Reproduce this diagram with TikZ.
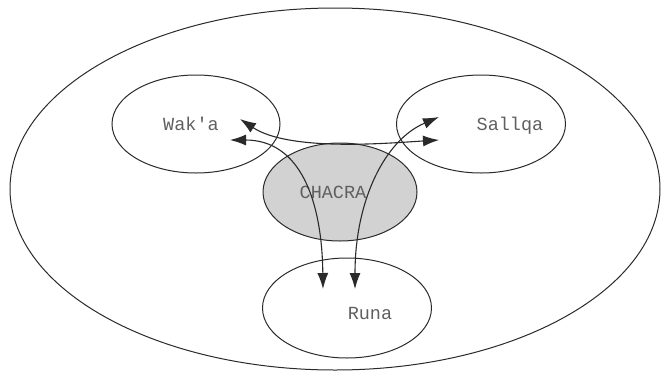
\documentclass[tikz,border=0pt]{standalone}
\usepackage{fontspec}
\setmonofont{Liberation Mono}
\usetikzlibrary{shapes.geometric,arrows.meta}
\definecolor{linec}{HTML}{2A2A2A}
\definecolor{txtc}{HTML}{606060}
\definecolor{chacrafill}{HTML}{D2D2D2}
\tikzset{
  region/.style={ellipse,draw=linec,line width=1pt,inner sep=0pt},
  lbl/.style={font=\ttfamily\fontsize{18.5}{18.5}\selectfont,text=txtc,inner sep=0pt},
  flow/.style={draw=linec,line width=1.1pt,{Latex[length=16pt,width=11pt]}-{Latex[length=16pt,width=11pt]}}
}
\begin{document}
\begin{tikzpicture}[x=1pt,y=-1pt]
\useasboundingbox (0,0) rectangle (662,373);
\node[region,minimum width=650pt,minimum height=362pt] (outer) at (335,189) {};
\node[region,fill=chacrafill,minimum width=154pt,minimum height=98pt] (chacra) at (340,192) {};
\node[region,minimum width=168pt,minimum height=98pt] (waka) at (196,124) {};
\node[region,minimum width=169pt,minimum height=98pt] (sallqa) at (481,124) {};
\node[region,minimum width=169pt,minimum height=100pt] (runa) at (347,308) {};
\node[lbl] (wakaL) at (191,124) {Wak'a};
\node[lbl] (sallqaL) at (510,126) {Sallqa};
\node[lbl] (chacraL) at (333,192) {CHACRA};
\node[lbl] (runaL) at (370,313) {Runa};
\coordinate (w1) at (240,119);
\coordinate (w2) at (230,140);
\coordinate (s1) at (439,117);
\coordinate (s2) at (439,140);
\coordinate (r1) at (323,289);
\coordinate (r2) at (355,289);
\path[flow] (w1) .. controls (290,152) and (390,143) .. (s2);
\path[flow] (w2) .. controls (300,140) and (322,200) .. (r1);
\path[flow] (s1) .. controls (385,140) and (355,200) .. (r2);
\end{tikzpicture}
\end{document}
